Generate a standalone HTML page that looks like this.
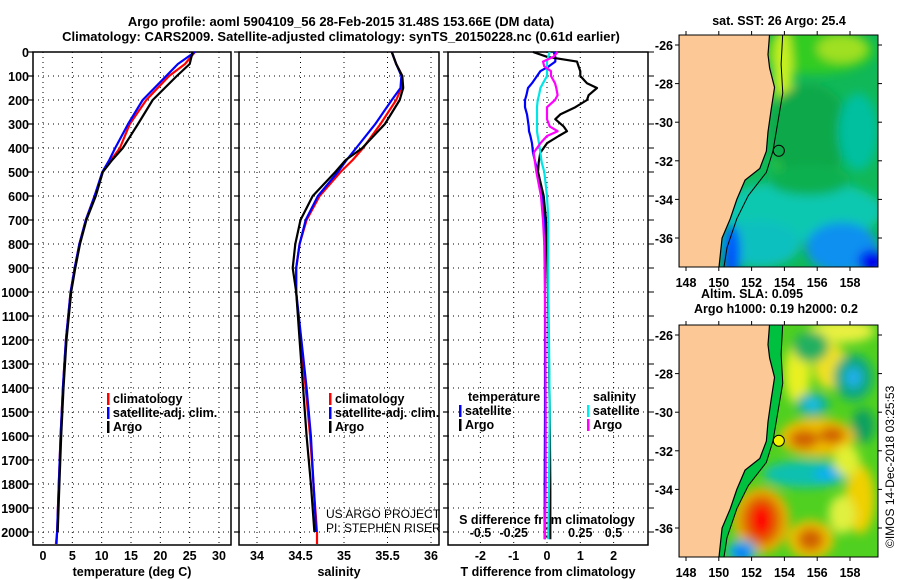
<!DOCTYPE html>
<html><head><meta charset="utf-8">
<style>
html,body{margin:0;padding:0;background:#fff;}
svg{display:block;font-family:"Liberation Sans",sans-serif;}
.t{font-weight:bold;font-size:13px;}
.tk{font-weight:bold;font-size:12.5px;}
</style></head>
<body>
<svg id="c" width="900" height="580" viewBox="0 0 900 580" xmlns="http://www.w3.org/2000/svg">
<text class="t" x="341" y="26" text-anchor="middle">Argo profile: aoml 5904109_56 28-Feb-2015 31.48S 153.66E (DM data)</text>
<text class="t" x="341" y="41" text-anchor="middle">Climatology: CARS2009. Satellite-adjusted climatology: synTS_20150228.nc (0.61d earlier)</text>
<g id="p1"></g>
<g id="p2"></g>
<g id="p3"></g>
<g id="m1"></g>
<g id="m2"></g>
<text x="0" y="0" font-size="12" transform="translate(894,548) rotate(-90)">©IMOS 14-Dec-2018 03:25:53</text>
</svg>
<script>
// ---- data ----
const depthTicks=[0,100,200,300,400,500,600,700,800,900,1000,1100,1200,1300,1400,1500,1600,1700,1800,1900,2000];
const tempTicks=[0,5,10,15,20,25,30];
const salTicks=[34,34.5,35,35.5,36];
const salTickLabels=["34","34.5","35","35.5","36"];
const tdTicks=[-2,-1,0,1,2];
const sdTicks=[-0.5,-0.25,0,0.25,0.5];
const sdTickLabels=["-0.5","-0.25","0","0.25","0.5"];

const tDepth=[0,50,100,200,300,400,450,500,600,700,800,900,1000,1200,1400,1600,1800,2000,2050];
const tempClim=[25.9,24.2,21.5,17.6,14.8,13.1,11.6,10.2,8.8,7.3,6.2,5.4,4.7,3.9,3.4,3.0,2.7,2.4,2.2];
const tempSat=[25.9,23.0,21.0,17.0,14.5,12.3,11.3,10.1,8.8,7.3,6.2,5.4,4.7,3.9,3.4,3.0,2.7,2.4,2.3];
const tempArgo=[25.5,25.0,22.8,18.7,16.2,13.6,11.8,10.2,9.0,7.4,6.3,5.5,4.8,4.0,3.5,3.1,2.8,2.5,null];

const sDepth=[0,50,100,150,200,300,400,450,500,600,700,800,900,1000,1200,1400,1600,1800,2000,2050];
const salClim=[35.55,35.6,35.67,35.66,35.6,35.42,35.22,35.1,34.96,34.72,34.57,34.49,34.45,34.45,34.5,34.56,34.61,34.65,34.69,34.69];
const salSat=[35.55,35.6,35.66,35.65,35.55,35.36,35.14,35.03,34.93,34.7,34.56,34.49,34.45,34.45,34.51,34.57,34.62,34.65,34.68,null];
const salArgo=[35.55,35.6,35.67,35.68,35.64,35.47,35.21,35.02,34.9,34.64,34.5,34.44,34.41,34.45,34.49,34.53,34.57,34.62,34.66,null];

const dDepth=[0,20,40,60,80,100,130,150,180,200,230,260,280,310,330,350,380,420,460,500,600,700,800,1000,1200,1500,1800,2000,2030];
const tDiffSat=[0.2,0.25,0.25,0.05,-0.2,-0.3,-0.45,-0.57,-0.62,-0.66,-0.66,-0.6,-0.58,-0.55,-0.54,-0.5,-0.45,-0.42,-0.35,-0.27,-0.12,-0.08,-0.06,-0.06,-0.06,-0.06,-0.07,-0.07,-0.07];
const tDiffArgo=[-0.42,0,0.9,0.95,1.0,1.0,1.2,1.5,1.25,1.2,0.85,0.4,0.25,0.5,0.6,0.35,0.0,-0.2,-0.25,-0.27,-0.1,-0.03,0.0,0.03,0.05,0.08,0.1,0.1,0.1];
const sDiffSat=[0.02,0.01,0.0,0.0,0.0,0.0,-0.03,-0.05,-0.06,-0.07,-0.075,-0.075,-0.075,-0.075,-0.075,-0.07,-0.06,-0.05,-0.04,-0.02,0.0,0.01,0.01,0.01,0.015,0.02,0.015,0.01,0.01];
const sDiffArgo=[0.08,0.05,-0.03,-0.02,0.03,0.03,0.06,0.07,0.08,0.06,0.0,0.0,0.0,0.02,0.08,0.0,-0.05,-0.1,-0.09,-0.08,-0.045,-0.03,-0.02,-0.015,-0.012,-0.01,-0.01,-0.015,-0.015];

// ---- helpers ----
const NS="http://www.w3.org/2000/svg";
function mk(parent,tag,attrs){const e=document.createElementNS(NS,tag);for(const k in attrs)e.setAttribute(k,attrs[k]);parent.appendChild(e);return e;}
const Y0=52, YB=545, yPx=d=>Y0+d*(532-52)/2000;

function panel(g,x0,x1,xs,ticks,labels,xlabel,leftTicks){
  mk(g,'rect',{x:x0,y:Y0,width:x1-x0,height:YB-Y0,fill:'none',stroke:'#000','stroke-width':1.5});
  depthTicks.forEach(d=>{
    const y=yPx(d);
    const gl=mk(g,'line',{x1:x0,x2:x1,y1:y,y2:y,stroke:'#000','stroke-dasharray':'1,4','stroke-width':1});
    
    mk(g,'line',{x1:x0-5,x2:x0,y1:y,y2:y,stroke:'#000','stroke-width':1.2});
    if(leftTicks){const t=mk(g,'text',{x:x0-4,y:y+5,'text-anchor':'end',class:'tk'});t.textContent=d;
      }
  });
  ticks.forEach((v,i)=>{
    const x=xs(v);
    const gl=mk(g,'line',{x1:x,x2:x,y1:Y0,y2:YB,stroke:'#000','stroke-dasharray':'1,4','stroke-width':1});
    
    if(labels){const t=mk(g,'text',{x:x,y:560,'text-anchor':'middle',class:'tk'});t.textContent=labels[i];
      }
  });
  if(xlabel){const t=mk(g,'text',{x:(x0+x1)/2,y:576,'text-anchor':'middle',class:'tk'});t.textContent=xlabel;
    }
}
function series(g,depths,vals,xs,color,name){
  let d='';let first=true;
  depths.forEach((dp,i)=>{const v=vals[i];if(v===null)return;d+=(first?'M':'L')+xs(v).toFixed(1)+','+yPx(dp).toFixed(1);first=false;});
  const p=mk(g,'path',{d:d,fill:'none',stroke:color,'stroke-width':2.2,'stroke-linejoin':'round'});
  
  
}
function legend(g,x,y,items){
  items.forEach((it,i)=>{
    const yy=y+i*14;
    mk(g,'rect',{x:x,y:yy-10,width:2.5,height:12,fill:it[1]});
    const t=mk(g,'text',{x:x+6,y:yy,class:'tk'});t.textContent=it[0];
    
  });
}

// ---- panel 1 ----
const p1=document.getElementById('p1');
const xT=v=>43+v*(219-43)/30;
panel(p1,33,231,xT,tempTicks,tempTicks.map(String),'temperature (deg C)',true);
series(p1,tDepth,tempClim,xT,'#ff0000','temp-climatology-line');
series(p1,tDepth,tempSat,xT,'#0000ff','temp-satellite-line');
series(p1,tDepth,tempArgo,xT,'#000000','temp-argo-line');
legend(p1,107,403,[['climatology','#f00'],['satellite-adj. clim.','#00f'],['Argo','#000']]);

// ---- panel 2 ----
const p2=document.getElementById('p2');
const xS=v=>257+(v-34)*87;
panel(p2,239,439,xS,salTicks,salTickLabels,'salinity',false);
series(p2,sDepth,salClim,xS,'#ff0000','sal-climatology-line');
series(p2,sDepth,salSat,xS,'#0000ff','sal-satellite-line');
series(p2,sDepth,salArgo,xS,'#000000','sal-argo-line');
legend(p2,329,403,[['climatology','#f00'],['satellite-adj. clim.','#00f'],['Argo','#000']]);
let tt=mk(p2,'text',{x:326,y:518,'font-size':12});tt.textContent='US ARGO PROJECT';
tt=mk(p2,'text',{x:326,y:532,'font-size':12});tt.textContent='PI: STEPHEN RISER';

// ---- panel 3 ----
const p3=document.getElementById('p3');
const xTd=v=>547+v*33.3, xSd=v=>547+v*133;
panel(p3,448,648,xTd,tdTicks,tdTicks.map(String),'T difference from climatology',false);
sdTicks.forEach((v,i)=>{const t=mk(p3,'text',{x:xSd(v),y:537,'text-anchor':'middle',class:'tk'});t.textContent=sdTickLabels[i];
  });
tt=mk(p3,'text',{x:547,y:524,'text-anchor':'middle',class:'tk'});tt.textContent='S difference from climatology';
depthTicks.forEach(d=>{mk(p3,'line',{x1:648,x2:654,y1:yPx(d),y2:yPx(d),stroke:'#000'});});
series(p3,dDepth,tDiffSat,xTd,'#0000ff','t-diff-satellite-line');
series(p3,dDepth,tDiffArgo,xTd,'#000000','t-diff-argo-line');
series(p3,dDepth,sDiffSat,xSd,'#00e5e5','s-diff-satellite-line');
series(p3,dDepth,sDiffArgo,xSd,'#ff00ff','s-diff-argo-line');
tt=mk(p3,'text',{x:468,y:401,class:'tk'});tt.textContent='temperature';
tt=mk(p3,'text',{x:593,y:401,class:'tk'});tt.textContent='salinity';
legend(p3,459,415,[['satellite','#00f'],['Argo','#000']]);
legend(p3,587,415,[['satellite','#0ee'],['Argo','#f0f']]);

// ---- maps ----
const lonTicks=[148,150,152,154,156,158];
const latTicks=[-26,-28,-30,-32,-34,-36];
const coast=[[153.1,-25.4],[153.0,-26.5],[153.1,-27.2],[153.4,-28.2],[153.2,-29.3],[153.0,-30.5],[152.9,-31.5],[152.5,-32.4],[151.6,-33.0],[151.1,-34.0],[150.7,-35.0],[150.2,-36.0],[150.0,-37.6]];
const shelf=[[153.9,-25.4],[153.8,-27],[153.9,-28.5],[153.6,-30],[153.3,-31.5],[152.9,-32.6],[151.8,-33.8],[151.1,-35],[150.5,-36.5],[150.3,-37.6]];
function map(id,top,bot,bg,blobs,markFill,title,shelfFill){
  const g=document.getElementById(id);
  const L=679,R=878;
  const lx=v=>686+(v-148)*16.4, ly=v=>(top+10)+(-26-v)*19.3;
  const cid=id+'clip';
  const defs=mk(g,'defs',{});
  const cp=mk(defs,'clipPath',{id:cid});mk(cp,'rect',{x:L,y:top,width:R-L,height:bot-top});
  const f=mk(defs,'filter',{id:id+'bl',x:'-50%',y:'-50%',width:'200%',height:'200%'});mk(f,'feGaussianBlur',{stdDeviation:5});
  const inner=mk(g,'g',{'clip-path':'url(#'+cid+')'});
  mk(inner,'rect',{x:L,y:top,width:R-L,height:bot-top,fill:bg});
  const bg2=mk(inner,'g',{filter:'url(#'+id+'bl)'});
  blobs.forEach(b=>mk(bg2,'ellipse',{cx:lx(b[0]),cy:ly(b[1]),rx:b[2]*16.4,ry:b[3]*19.3,fill:b[4]}));
  let d='M'+L+','+(top-5);coast.forEach(p=>d+='L'+lx(p[0])+','+ly(p[1]));d+='L'+L+','+(bot+5)+'Z';
  let sd='M'+lx(shelf[0][0])+','+ly(shelf[0][1]);shelf.forEach(p=>sd+='L'+lx(p[0])+','+ly(p[1]));
  if(shelfFill){let sh='M'+lx(coast[0][0])+','+(top-5);shelf.forEach(p=>sh+='L'+lx(p[0])+','+ly(p[1]));coast.slice().reverse().forEach(p=>sh+='L'+lx(p[0])+','+ly(p[1]));mk(inner,'path',{d:sh+'Z',fill:shelfFill});}
  mk(inner,'path',{d:sd,fill:'none',stroke:'#000','stroke-width':1});
  const land=mk(inner,'path',{d:d,fill:'#fcc896',stroke:'#000','stroke-width':1.2});
  
  const mkr=mk(inner,'circle',{cx:lx(153.66),cy:ly(-31.48),r:5.5,fill:markFill,stroke:'#000','stroke-width':1});
  
  mk(g,'rect',{x:L,y:top,width:R-L,height:bot-top,fill:'none',stroke:'#000','stroke-width':1});
  lonTicks.forEach(v=>{mk(g,'line',{x1:lx(v),x2:lx(v),y1:top-4,y2:top,stroke:'#000'});mk(g,'line',{x1:lx(v),x2:lx(v),y1:bot,y2:bot+4,stroke:'#000'});
    const t=mk(g,'text',{x:lx(v),y:bot+20,'text-anchor':'middle',class:'tk'});t.textContent=v;
    });
  latTicks.forEach(v=>{mk(g,'line',{x1:L-4,x2:L,y1:ly(v),y2:ly(v),stroke:'#000'});mk(g,'line',{x1:R,x2:R+4,y1:ly(v),y2:ly(v),stroke:'#000'});
    const t=mk(g,'text',{x:L-6,y:ly(v)+5,'text-anchor':'end',class:'tk'});t.textContent=v;
    });
  title.forEach((s,i)=>{const t=mk(g,'text',{x:s[1],y:s[2],'text-anchor':'middle',class:'tk'});t.textContent=s[0];
    });
}
map('m1',35,267,'#10b858',[
 [156,-26.3,3.5,1.2,'#30cc20'],[157.5,-26.2,1.5,0.7,'#a0e020'],[153.9,-27.5,0.6,2.5,'#c8f020'],[153.7,-30.5,0.5,2,'#40d020'],
 [155.5,-30.5,2.5,2.5,'#10a848'],[158.5,-30.5,1.2,2,'#00c0a0'],
 [155,-34.6,5,1.6,'#10c8b0'],[152.5,-36.3,2.5,1.2,'#10c0c0'],[157.5,-36.5,2.2,1.3,'#1090f0'],[159.3,-37.2,0.8,0.6,'#0000f0'],[150.8,-36.8,0.5,1.5,'#0050ff'],
 [155.5,-33,2.5,0.8,'#10b050']
],'none',[['sat. SST: 26 Argo: 25.4',779,25]],null);
map('m2',325,557,'#50d020',[
 [154.8,-28,0.8,1.6,'#e8f020'],[156.8,-27.6,1,1.2,'#f0e020'],[157.5,-25.8,2,0.6,'#e8f040'],[155.6,-26.6,1.1,0.8,'#20b060'],
 [158.2,-28.2,1.2,1.2,'#10a880'],[158.2,-28.2,0.5,0.5,'#20b0f0'],
 [155.7,-29.6,1,0.6,'#10b0a0'],[155.7,-29.6,0.4,0.35,'#20c0f0'],[158.8,-30.7,0.7,0.9,'#10a060'],
 [156,-31.3,2.3,1,'#f0c000'],[155.2,-31.4,0.9,0.5,'#d06000'],[156.9,-31.2,0.8,0.45,'#d06000'],
 [155.3,-33.2,2.6,0.7,'#10c0b0'],[156.7,-33.2,0.9,0.4,'#10b0f0'],
 [152.6,-35.6,1.7,1.7,'#f0b000'],[152.6,-35.6,1.2,1.3,'#d86000'],[152.6,-35.6,0.65,0.85,'#ff0000'],
 [155.6,-36.6,1.4,1,'#f0c000'],[155.6,-36.6,0.8,0.6,'#d06000'],[151.4,-37.2,0.9,0.6,'#10b0e0'],[151.4,-37.3,0.45,0.35,'#1070ff'],
 [158.6,-34.5,0.9,1.8,'#f0d000'],[157.5,-35.3,0.8,1,'#e0f040'],[157.8,-32.5,0.8,0.8,'#e0f030']
],'#f0f000',[['Altim. SLA: 0.095',752,298],['Argo h1000: 0.19 h2000: 0.2',776,313]],'#00c040');
</script>
</body></html>
